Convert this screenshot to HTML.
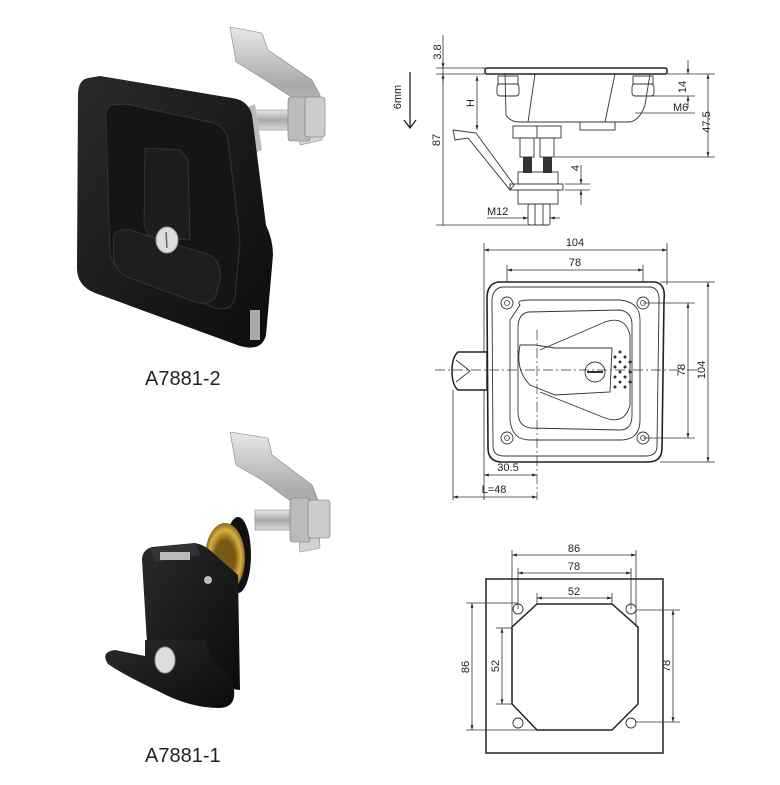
<!DOCTYPE html>
<html><head><meta charset="utf-8"><style>
html,body{margin:0;padding:0;background:#fff;}
svg{display:block;}
text{font-family:"Liberation Sans",sans-serif;fill:#222;}
.d{stroke:#333;stroke-width:0.8;fill:none;}
.t{font-size:11px;}
.o{stroke:#222;stroke-width:1.5;fill:#fff;}
.th{stroke:#333;stroke-width:0.9;fill:none;}
</style></head><body>
<svg width="780" height="785" viewBox="0 0 780 785" xmlns="http://www.w3.org/2000/svg">
<defs>
<marker id="a" viewBox="0 0 10 10" refX="10" refY="5" markerWidth="6" markerHeight="6" orient="auto-start-reverse"><path d="M0,2 L10,5 L0,8 z" fill="#222"/></marker>
<linearGradient id="m" x1="0" y1="0" x2="0" y2="1"><stop offset="0" stop-color="#e8e8e8"/><stop offset="0.5" stop-color="#a9a9a9"/><stop offset="1" stop-color="#d8d8d8"/></linearGradient>
<linearGradient id="b" x1="0" y1="0" x2="1" y2="1"><stop offset="0" stop-color="#2a2a2a"/><stop offset="1" stop-color="#0c0c0c"/></linearGradient>
<radialGradient id="br" cx="0.5" cy="0.5" r="0.5"><stop offset="0.5" stop-color="#7a5a10"/><stop offset="0.8" stop-color="#d8b040"/><stop offset="1" stop-color="#8a6a20"/></radialGradient>
</defs>

<!-- ===== Photo 1 ===== -->
<g>
<path d="M230,27 L262,33 L268,50 L312,80 L320,95 L322,140 L300,145 L296,100 L262,78 L236,62 Z" fill="url(#m)" stroke="#888" stroke-width="0.6"/>
<rect x="245" y="110" width="58" height="20" fill="url(#m)" stroke="#888" stroke-width="0.6"/>
<rect x="288" y="97" width="22" height="44" rx="3" fill="#bbb" stroke="#777" stroke-width="0.6"/>
<rect x="305" y="97" width="20" height="40" rx="3" fill="#ccc" stroke="#777" stroke-width="0.6"/>
<path d="M240,110 L255,104 L262,150 L248,156 Z" fill="#bbb"/>
<path d="M88,78 Q78,80 78,95 L77,268 Q77,286 95,293 L240,346 Q262,352 266,335 L273,255 Q273,240 266,225 L252,115 Q248,100 232,98 L100,76 Z" fill="url(#b)"/>
<path d="M112,105 Q105,108 106,120 L110,252 Q112,268 128,274 L215,308 Q232,312 235,298 L240,240 L228,140 Q225,125 210,122 L125,104 Z" fill="#151515" stroke="#333" stroke-width="1"/>
<path d="M145,148 L180,150 L188,160 L190,240 L150,238 L144,225 Z" fill="#1d1d1d" stroke="#3a3a3a" stroke-width="0.8"/>
<path d="M113,238 Q115,228 130,230 L210,255 Q222,262 220,280 L215,298 Q208,306 195,302 L130,278 Q115,272 114,258 Z" fill="#1e1e1e" stroke="#3a3a3a" stroke-width="0.8"/>
<ellipse cx="167" cy="240" rx="11" ry="13" fill="#ddd" stroke="#999"/>
<line x1="166" y1="232" x2="167" y2="248" stroke="#666" stroke-width="1.5"/>
<rect x="250" y="310" width="10" height="30" fill="#aaa"/>
</g>
<text x="145" y="385" font-size="20">A7881-2</text>

<!-- ===== Photo 2 ===== -->
<g>
<path d="M230,432 L268,438 L272,455 L312,485 L318,500 L320,548 L300,552 L296,505 L262,480 L236,465 Z" fill="url(#m)" stroke="#888" stroke-width="0.6"/>
<rect x="255" y="510" width="60" height="20" fill="url(#m)" stroke="#888" stroke-width="0.6"/>
<rect x="290" y="498" width="20" height="44" rx="3" fill="#bbb" stroke="#777" stroke-width="0.6"/>
<rect x="308" y="500" width="22" height="38" rx="3" fill="#ccc" stroke="#777" stroke-width="0.6"/>
<ellipse cx="238" cy="555" rx="13" ry="38" fill="#111"/>
<ellipse cx="225" cy="558" rx="20" ry="35" fill="url(#br)"/>
<path d="M142,560 Q142,550 152,547 L195,543 Q205,545 212,552 L238,575 L240,690 L222,688 L205,660 L148,660 Z" fill="url(#b)"/>
<path d="M150,548 L195,543 L200,555 L155,562 Z" fill="#333"/>
<rect x="160" y="552" width="30" height="8" fill="#bbb"/>
<path d="M145,640 L205,640 L212,660 Q228,672 234,690 Q236,707 220,708 Q190,708 160,692 Q122,674 108,664 Q100,652 115,650 L145,656 Z" fill="url(#b)"/>
<ellipse cx="165" cy="660" rx="10" ry="13" fill="#ddd" stroke="#999"/>
<circle cx="208" cy="580" r="4" fill="#bbb"/>
</g>
<text x="145" y="762" font-size="20">A7881-1</text>

<!-- ===== Drawing 1 (side) ===== -->
<g>
<line x1="443" y1="35" x2="443" y2="226" class="d"/>
<line x1="443" y1="60" x2="443" y2="68" class="d" marker-end="url(#a)"/>
<line x1="443" y1="85" x2="443" y2="74" class="d" marker-end="url(#a)"/>
<line x1="436" y1="68" x2="485" y2="68" class="d"/>
<line x1="436" y1="74" x2="485" y2="74" class="d"/>
<line x1="436" y1="225" x2="530" y2="225" class="d"/>
<text transform="translate(441,52) rotate(-90)" class="t" text-anchor="middle">3.8</text>
<text transform="translate(440,140) rotate(-90)" class="t" text-anchor="middle">87</text>
<text transform="translate(401,97) rotate(-90)" class="t" text-anchor="middle">6mm</text>
<line x1="410" y1="72" x2="410" y2="128" stroke="#222" stroke-width="1.3"/>
<path d="M404,120 L410,128 L416,120" fill="none" stroke="#222" stroke-width="1.3"/>
<line x1="477" y1="76" x2="477" y2="130" class="d" marker-start="url(#a)" marker-end="url(#a)"/>
<text transform="translate(474,103) rotate(-90)" class="t" text-anchor="middle">H</text>
<rect x="485" y="68" width="182" height="6" rx="2" class="o" stroke-width="1.2"/>
<path d="M505,74 L506,115 Q510,122 520,122 L630,122 Q640,120 645,105 L650,74" class="th" stroke-width="1"/>
<line x1="535" y1="74" x2="528" y2="122" class="th"/>
<line x1="615" y1="74" x2="605" y2="122" class="th"/>
<rect x="498" y="76" width="20" height="8" class="th"/><rect x="497" y="84" width="22" height="12" rx="3" class="th"/>
<rect x="633" y="76" width="20" height="8" class="th"/><rect x="632" y="84" width="22" height="12" rx="3" class="th"/>
<rect x="580" y="122" width="35" height="8" class="th"/>
<rect x="513" y="126" width="48" height="12" class="th"/><line x1="537" y1="126" x2="537" y2="138" class="th"/>
<rect x="520" y="138" width="14" height="19" class="th"/><rect x="540" y="138" width="14" height="19" class="th"/>
<rect x="523" y="157" width="9" height="16" fill="#333"/><rect x="543" y="157" width="9" height="16" fill="#333"/>
<rect x="518" y="172" width="40" height="12" class="th"/>
<rect x="510" y="184" width="53" height="6" class="th"/>
<rect x="518" y="190" width="40" height="14" class="th"/>
<rect x="528" y="204" width="22" height="21" rx="2" class="th"/><line x1="535" y1="204" x2="535" y2="225" class="th"/><line x1="543" y1="204" x2="543" y2="225" class="th"/>
<path d="M453,130 L476,133 L514,185 L510,190 L468,138 L455,140 Z" class="th"/>
<line x1="555" y1="157" x2="715" y2="157" class="d"/>
<line x1="667" y1="74" x2="715" y2="74" class="d"/>
<line x1="708" y1="74" x2="708" y2="157" class="d" marker-start="url(#a)" marker-end="url(#a)"/>
<text transform="translate(710,122) rotate(-90)" class="t" text-anchor="middle">47.5</text>
<line x1="650" y1="96" x2="695" y2="96" class="d"/>
<line x1="688" y1="60" x2="688" y2="74" class="d" marker-end="url(#a)"/>
<line x1="688" y1="108" x2="688" y2="96" class="d" marker-end="url(#a)"/>
<text transform="translate(686,87) rotate(-90)" class="t" text-anchor="middle">14</text>
<line x1="635" y1="113" x2="695" y2="113" class="d"/>
<text x="673" y="111" class="t">M6</text>
<line x1="565" y1="184" x2="590" y2="184" class="d"/><line x1="565" y1="190" x2="590" y2="190" class="d"/>
<line x1="581" y1="165" x2="581" y2="184" class="d" marker-end="url(#a)"/>
<line x1="581" y1="205" x2="581" y2="190" class="d" marker-end="url(#a)"/>
<text transform="translate(579,168) rotate(-90)" class="t" text-anchor="middle">4</text>
<line x1="487" y1="218" x2="528" y2="218" class="d" marker-end="url(#a)"/>
<line x1="560" y1="218" x2="550" y2="218" class="d" marker-end="url(#a)"/>
<text x="487" y="215" class="t">M12</text>
</g>

<!-- ===== Drawing 2 (front) ===== -->
<g>
<line x1="484" y1="243" x2="484" y2="500" class="d"/>
<line x1="667" y1="243" x2="667" y2="285" class="d"/>
<line x1="484" y1="250" x2="667" y2="250" class="d" marker-start="url(#a)" marker-end="url(#a)"/>
<text x="575" y="246" class="t" text-anchor="middle">104</text>
<line x1="507" y1="265" x2="507" y2="303" class="d"/><line x1="643" y1="265" x2="643" y2="303" class="d"/>
<line x1="507" y1="270" x2="643" y2="270" class="d" marker-start="url(#a)" marker-end="url(#a)"/>
<text x="575" y="266" class="t" text-anchor="middle">78</text>
<path d="M498,282 L655,282 Q666,284 664,300 L662,448 Q662,462 648,462 L502,462 Q488,462 488,448 L487,298 Q487,284 498,282 Z" fill="#fff" stroke="#222" stroke-width="1.6"/>
<path d="M502,287 L651,287 Q660,289 659,302 L657,446 Q657,456 646,456 L504,456 Q493,456 493,446 L492,301 Q492,289 502,287 Z" class="th"/>
<path d="M520,305 Q515,300 530,300 L620,300 Q640,302 640,320 L640,420 Q640,440 620,440 L530,440 Q512,440 510,420 L510,320 Z" class="th"/>
<path d="M528,312 L620,310 Q632,312 632,325 L632,415 Q632,430 620,430 L530,428 Q518,426 518,412 L518,328 Q518,314 528,312 Z" class="th"/>
<path d="M540,350 L605,322 Q625,315 630,335 L630,405 Q625,425 605,418 L540,392" class="th"/>
<path d="M520,345 Q515,370 530,385 L555,395 L610,392 L612,348 L555,348 L535,345 Z" class="th"/>
<circle cx="595" cy="372" r="10" class="th"/><line x1="587" y1="372" x2="603" y2="372" stroke="#333" stroke-width="2"/>
<g fill="#333"><circle cx="620" cy="352" r="1.5"/><circle cx="625" cy="357" r="1.5"/><circle cx="620" cy="362" r="1.5"/><circle cx="625" cy="367" r="1.5"/><circle cx="620" cy="372" r="1.5"/><circle cx="625" cy="377" r="1.5"/><circle cx="620" cy="382" r="1.5"/><circle cx="625" cy="387" r="1.5"/><circle cx="615" cy="357" r="1.5"/><circle cx="615" cy="367" r="1.5"/><circle cx="615" cy="377" r="1.5"/><circle cx="615" cy="387" r="1.5"/><circle cx="630" cy="362" r="1.5"/><circle cx="630" cy="372" r="1.5"/><circle cx="630" cy="382" r="1.5"/></g>
<g class="th" stroke-width="1.4"><circle cx="507" cy="303" r="6"/><circle cx="643" cy="303" r="6"/><circle cx="507" cy="438" r="6"/><circle cx="643" cy="438" r="6"/></g>
<g fill="none" stroke="#333" stroke-width="0.7"><circle cx="507" cy="303" r="2.5"/><circle cx="643" cy="303" r="2.5"/><circle cx="507" cy="438" r="2.5"/><circle cx="643" cy="438" r="2.5"/></g>
<path d="M458,352 L487,352 L487,390 L458,390 Q452,385 452,371 Q452,357 458,352 Z" class="o" stroke-width="1.2"/>
<path d="M456,360 L470,371 L456,382" class="th"/>
<line x1="435" y1="370" x2="700" y2="370" stroke="#333" stroke-width="0.7" stroke-dasharray="10,3,2,3"/>
<line x1="537" y1="330" x2="537" y2="500" stroke="#333" stroke-width="0.7" stroke-dasharray="10,3,2,3"/>
<line x1="643" y1="303" x2="695" y2="303" class="d"/><line x1="643" y1="438" x2="695" y2="438" class="d"/>
<line x1="688" y1="303" x2="688" y2="438" class="d" marker-start="url(#a)" marker-end="url(#a)"/>
<text transform="translate(685,370) rotate(-90)" class="t" text-anchor="middle">78</text>
<line x1="660" y1="282" x2="715" y2="282" class="d"/><line x1="660" y1="462" x2="715" y2="462" class="d"/>
<line x1="708" y1="282" x2="708" y2="462" class="d" marker-start="url(#a)" marker-end="url(#a)"/>
<text transform="translate(705,370) rotate(-90)" class="t" text-anchor="middle">104</text>
<line x1="484" y1="475" x2="537" y2="475" class="d" marker-start="url(#a)" marker-end="url(#a)"/>
<text x="508" y="471" class="t" text-anchor="middle">30.5</text>
<line x1="453" y1="390" x2="453" y2="500" class="d"/>
<line x1="453" y1="497" x2="537" y2="497" class="d" marker-start="url(#a)" marker-end="url(#a)"/>
<text x="494" y="493" class="t" text-anchor="middle">L=48</text>
</g>

<!-- ===== Drawing 3 (cutout) ===== -->
<g>
<rect x="486" y="579" width="177" height="174" fill="none" stroke="#222" stroke-width="1.5"/>
<path d="M537,604 L612,604 L638,627 L638,704 L612,730 L537,730 L512,704 L512,627 Z" fill="none" stroke="#222" stroke-width="1.5"/>
<g class="th" stroke-width="1.3"><circle cx="518" cy="609" r="5"/><circle cx="631" cy="609" r="5"/><circle cx="518" cy="723" r="5"/><circle cx="631" cy="723" r="5"/></g>
<line x1="512" y1="550" x2="512" y2="627" class="d"/><line x1="636" y1="550" x2="636" y2="627" class="d"/>
<line x1="512" y1="555" x2="636" y2="555" class="d" marker-start="url(#a)" marker-end="url(#a)"/>
<text x="574" y="552" class="t" text-anchor="middle">86</text>
<line x1="518" y1="568" x2="518" y2="609" class="d"/><line x1="631" y1="568" x2="631" y2="609" class="d"/>
<line x1="518" y1="573" x2="631" y2="573" class="d" marker-start="url(#a)" marker-end="url(#a)"/>
<text x="574" y="570" class="t" text-anchor="middle">78</text>
<line x1="537" y1="593" x2="537" y2="604" class="d"/><line x1="612" y1="593" x2="612" y2="604" class="d"/>
<line x1="537" y1="598" x2="612" y2="598" class="d" marker-start="url(#a)" marker-end="url(#a)"/>
<text x="574" y="595" class="t" text-anchor="middle">52</text>
<line x1="466" y1="603" x2="518" y2="603" class="d"/><line x1="466" y1="730" x2="537" y2="730" class="d"/>
<line x1="472" y1="603" x2="472" y2="730" class="d" marker-start="url(#a)" marker-end="url(#a)"/>
<text transform="translate(469,667) rotate(-90)" class="t" text-anchor="middle">86</text>
<line x1="496" y1="628" x2="512" y2="628" class="d"/><line x1="496" y1="704" x2="512" y2="704" class="d"/>
<line x1="502" y1="628" x2="502" y2="704" class="d" marker-start="url(#a)" marker-end="url(#a)"/>
<text transform="translate(499,666) rotate(-90)" class="t" text-anchor="middle">52</text>
<line x1="636" y1="610" x2="680" y2="610" class="d"/><line x1="636" y1="722" x2="680" y2="722" class="d"/>
<line x1="673" y1="610" x2="673" y2="722" class="d" marker-start="url(#a)" marker-end="url(#a)"/>
<text transform="translate(670,666) rotate(-90)" class="t" text-anchor="middle">78</text>
</g>
</svg>
</body></html>
